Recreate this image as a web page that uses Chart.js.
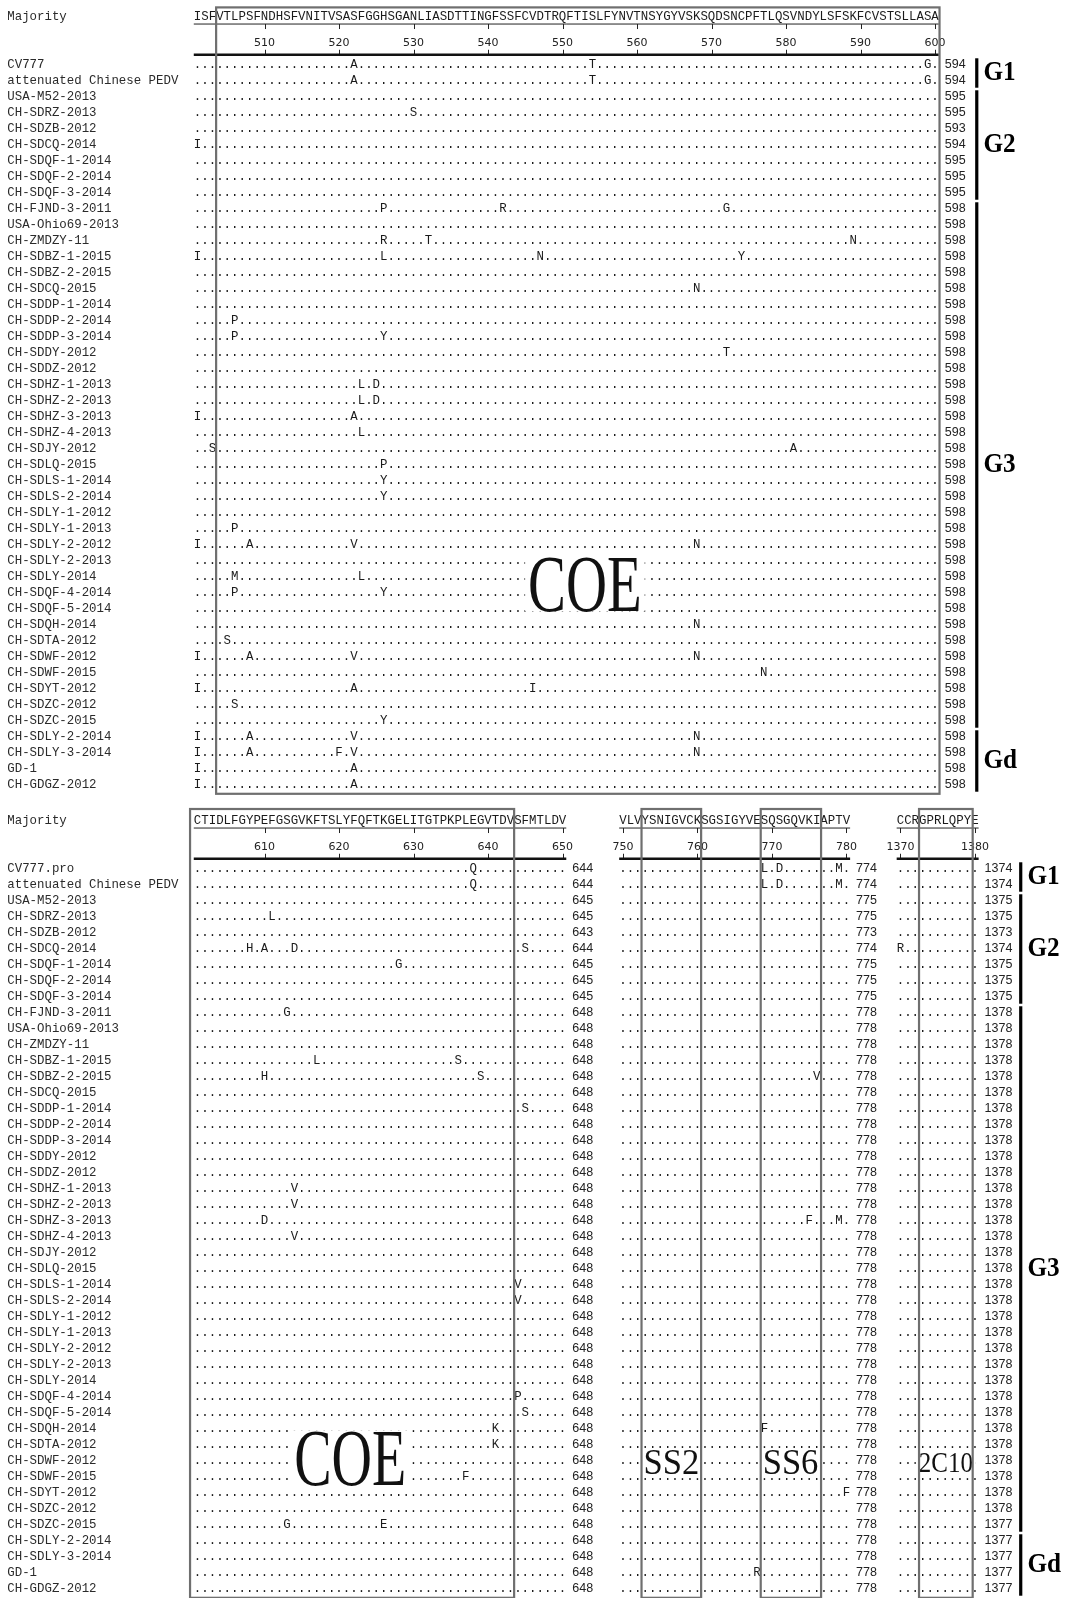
<!DOCTYPE html>
<html>
<head>
<meta charset="utf-8">
<script src="https://cdn.jsdelivr.net/npm/chart.js@4.4.1/dist/chart.umd.min.js"></script>
<style>
  html, body { margin: 0; padding: 0; background: #fff; }
  #wrap { width: 1072px; height: 1598px; position: relative; }
  canvas { display: block; }
</style>
</head>
<body>
<div id="wrap"><canvas id="aln" width="1072" height="1598"></canvas></div>
<script>
// ---- data ----
const strains = ["CV777", "attenuated Chinese PEDV", "USA-M52-2013", "CH-SDRZ-2013", "CH-SDZB-2012",
  "CH-SDCQ-2014", "CH-SDQF-1-2014", "CH-SDQF-2-2014", "CH-SDQF-3-2014", "CH-FJND-3-2011",
  "USA-Ohio69-2013", "CH-ZMDZY-11", "CH-SDBZ-1-2015", "CH-SDBZ-2-2015", "CH-SDCQ-2015",
  "CH-SDDP-1-2014", "CH-SDDP-2-2014", "CH-SDDP-3-2014", "CH-SDDY-2012", "CH-SDDZ-2012",
  "CH-SDHZ-1-2013", "CH-SDHZ-2-2013", "CH-SDHZ-3-2013", "CH-SDHZ-4-2013", "CH-SDJY-2012",
  "CH-SDLQ-2015", "CH-SDLS-1-2014", "CH-SDLS-2-2014", "CH-SDLY-1-2012", "CH-SDLY-1-2013",
  "CH-SDLY-2-2012", "CH-SDLY-2-2013", "CH-SDLY-2014", "CH-SDQF-4-2014", "CH-SDQF-5-2014",
  "CH-SDQH-2014", "CH-SDTA-2012", "CH-SDWF-2012", "CH-SDWF-2015", "CH-SDYT-2012",
  "CH-SDZC-2012", "CH-SDZC-2015", "CH-SDLY-2-2014", "CH-SDLY-3-2014", "GD-1", "CH-GDGZ-2012"];
const firstStrainBottom = "CV777.pro";

// groups: [label, first row, last row]
const groups = [["G1", 0, 1], ["G2", 2, 8], ["G3", 9, 41], ["Gd", 42, 45]];

const majority501 = "ISFVTLPSFNDHSFVNITVSASFGGHSGANLIASDTTINGFSSFCVDTRQFTISLFYNVTNSYGYVSKSQDSNCPFTLQSVNDYLSFSKFCVSTSLLASA";
const majority601 = "CTIDLFGYPEFGSGVKFTSLYFQFTKGELITGTPKPLEGVTDVSFMTLDV";
const majority750 = "VLVYSNIGVCKSGSIGYVESQSGQVKIAPTV";
const majority1370 = "CCRGPRLQPYE";

const ticks501 = [510, 520, 530, 540, 550, 560, 570, 580, 590, 600];
const ticks601 = [610, 620, 630, 640, 650];
const ticks750 = [750, 760, 770, 780];
const ticks1370 = [1370, 1380];

// residue numbers printed at the end of each row
const end600 = [594, 594, 595, 595, 593, 594, 595, 595, 595,
  598, 598, 598, 598, 598, 598, 598, 598, 598, 598, 598, 598, 598, 598, 598, 598, 598, 598, 598,
  598, 598, 598, 598, 598, 598, 598, 598, 598, 598, 598, 598, 598, 598, 598, 598, 598, 598];
const end650 = [644, 644, 645, 645, 643, 644, 645, 645, 645,
  648, 648, 648, 648, 648, 648, 648, 648, 648, 648, 648, 648, 648, 648, 648, 648, 648, 648, 648,
  648, 648, 648, 648, 648, 648, 648, 648, 648, 648, 648, 648, 648, 648, 648, 648, 648, 648];
const end780 = [774, 774, 775, 775, 773, 774, 775, 775, 775,
  778, 778, 778, 778, 778, 778, 778, 778, 778, 778, 778, 778, 778, 778, 778, 778, 778, 778, 778,
  778, 778, 778, 778, 778, 778, 778, 778, 778, 778, 778, 778, 778, 778, 778, 778, 778, 778];
const end1380 = [1374, 1374, 1375, 1375, 1373, 1374, 1375, 1375, 1375,
  1378, 1378, 1378, 1378, 1378, 1378, 1378, 1378, 1378, 1378, 1378, 1378, 1378, 1378, 1378, 1378,
  1378, 1378, 1378, 1378, 1378, 1378, 1378, 1378, 1378, 1378, 1378, 1378, 1378, 1378, 1378, 1378,
  1377, 1377, 1377, 1377, 1377];

// residues that differ from the majority: [row, position, residue]
const diffTop = [
  [0, 522, "A"], [0, 554, "T"], [0, 599, "G"],
  [1, 522, "A"], [1, 554, "T"], [1, 599, "G"],
  [3, 530, "S"], [5, 501, "I"],
  [9, 526, "P"], [9, 542, "R"], [9, 572, "G"],
  [11, 526, "R"], [11, 532, "T"], [11, 589, "N"],
  [12, 501, "I"], [12, 526, "L"], [12, 547, "N"], [12, 574, "Y"],
  [14, 568, "N"], [16, 506, "P"], [17, 506, "P"], [17, 526, "Y"], [18, 572, "T"],
  [20, 523, "L"], [20, 525, "D"], [21, 523, "L"], [21, 525, "D"],
  [22, 501, "I"], [22, 522, "A"], [23, 523, "L"],
  [24, 503, "S"], [24, 581, "A"], [25, 526, "P"], [26, 526, "Y"], [27, 526, "Y"],
  [29, 506, "P"], [30, 501, "I"], [30, 508, "A"], [30, 522, "V"], [30, 568, "N"],
  [32, 506, "M"], [32, 523, "L"], [33, 506, "P"], [33, 526, "Y"],
  [35, 568, "N"], [36, 505, "S"],
  [37, 501, "I"], [37, 508, "A"], [37, 522, "V"], [37, 568, "N"],
  [38, 577, "N"], [39, 501, "I"], [39, 522, "A"], [39, 546, "I"],
  [40, 506, "S"], [41, 526, "Y"],
  [42, 501, "I"], [42, 508, "A"], [42, 522, "V"], [42, 568, "N"],
  [43, 501, "I"], [43, 508, "A"], [43, 520, "F"], [43, 522, "V"], [43, 568, "N"],
  [44, 501, "I"], [44, 522, "A"], [45, 501, "I"], [45, 522, "A"]
];
const diffBottom = [
  [0, 638, "Q"], [0, 769, "L"], [0, 771, "D"], [0, 779, "M"],
  [1, 638, "Q"], [1, 769, "L"], [1, 771, "D"], [1, 779, "M"],
  [3, 611, "L"],
  [5, 608, "H"], [5, 610, "A"], [5, 614, "D"], [5, 645, "S"], [5, 1370, "R"],
  [6, 628, "G"], [9, 613, "G"],
  [12, 617, "L"], [12, 636, "S"],
  [13, 610, "H"], [13, 639, "S"], [13, 776, "V"],
  [15, 645, "S"], [20, 614, "V"], [21, 614, "V"],
  [22, 610, "D"], [22, 775, "F"], [22, 779, "M"], [23, 614, "V"],
  [26, 644, "V"], [27, 644, "V"],
  [33, 644, "P"], [34, 645, "S"], [35, 641, "K"], [35, 769, "F"], [36, 641, "K"],
  [38, 637, "F"], [39, 780, "F"], [41, 613, "G"], [41, 626, "E"], [44, 768, "R"]
];

// epitope regions: [label, panel]
const regions = [["COE", 0], ["COE", 1], ["SS2", 1], ["SS6", 1], ["2C10", 1]];

// ---- layout (pixel grid of the alignment text) ----
const X0 = 197.5, CW = 7.45, Y0 = 65, RH = 16;
const panelRow0 = [0, 50.25];
const segments = [
  { panel: 0, start: 501, seq: majority501, col0: 0, ticks: ticks501, ends: end600, diffs: diffTop },
  { panel: 1, start: 601, seq: majority601, col0: 0, ticks: ticks601, ends: end650, diffs: diffBottom },
  { panel: 1, start: 750, seq: majority750, col0: 57.1, ticks: ticks750, ends: end780, diffs: diffBottom },
  { panel: 1, start: 1370, seq: majority1370, col0: 94.35, ticks: ticks1370, ends: end1380, diffs: diffBottom }
];
const colOf = (seg, pos) => seg.col0 + pos - seg.start;

// box geometry in (column, row) units, per region
const boxShape = [
  { c0: 2.5, c1: 99.6, r0: -3.6, r1: 45.55, label: { col: 52, base: 34.1, size: 80, sx: 0.71 } },
  { c0: -1.0, c1: 42.5, r0: -3.75, r1: 45.55, label: { col: 20.5, base: 38.5, size: 80, sx: 0.70 } },
  { c0: 59.6, c1: 67.6, r0: -3.75, r1: 45.55, label: { col: 63.6, base: 37.8, size: 36, sx: 0.96 } },
  { c0: 75.6, c1: 83.7, r0: -3.75, r1: 45.55, label: { col: 79.6, base: 37.8, size: 36, sx: 0.96 } },
  { c0: 96.85, c1: 104.05, r0: -3.75, r1: 45.55, label: { col: 100.45, base: 37.7, size: 29, sx: 0.86 } }
];
const groupBarCol = [104.6, 110.5], groupLabelCol = [105.5, 111.4];

const MONO = '12.4px "Liberation Mono", "DejaVu Sans Mono", monospace';

// ---- datasets ----
const residuePts = [], majorityPts = [], tickPts = [], endPts = [], namePts = [], groupPts = [];
segments.forEach(seg => {
  const r0 = panelRow0[seg.panel];
  const diffMap = {};
  seg.diffs.forEach(([row, pos, aa]) => { diffMap[row + ":" + pos] = aa; });
  strains.forEach((name, row) => {
    for (let i = 0; i < seg.seq.length; i++) {
      const pos = seg.start + i;
      residuePts.push({ x: colOf(seg, pos), y: r0 + row, t: diffMap[row + ":" + pos] || "." });
    }
    endPts.push({ x: colOf(seg, seg.start + seg.seq.length - 1) + 1.3, y: r0 + row, t: String(seg.ends[row]) });
  });
  for (let i = 0; i < seg.seq.length; i++) majorityPts.push({ x: seg.col0 + i, y: r0 - 3.0, t: seg.seq[i] });
  seg.ticks.forEach(tk => tickPts.push({ x: colOf(seg, tk), y: r0 - 1.375, t: String(tk) }));
});
[0, 1].forEach(panel => {
  const r0 = panelRow0[panel];
  namePts.push({ x: -25.53, y: r0 - 3.0, t: "Majority" });
  strains.forEach((name, row) => namePts.push({ x: -25.53, y: r0 + row, t: panel === 1 && row === 0 ? firstStrainBottom : name }));
  groups.forEach(([g, a, b]) => groupPts.push({ x: groupLabelCol[panel], y: r0 + (a + b) / 2, t: g }));
});

function glyphSet(label, data, glyph) {
  return { label, data, glyph, pointRadius: 0, pointHoverRadius: 0, showLine: false };
}

const glyphPlugin = {
  id: "glyphs",
  afterDatasetsDraw(chart) {
    const ctx = chart.ctx;
    chart.data.datasets.forEach((ds, i) => {
      const g = ds.glyph;
      if (!g) return;
      const meta = chart.getDatasetMeta(i);
      ctx.save();
      ctx.font = g.font;
      ctx.fillStyle = g.color;
      ctx.textAlign = g.align;
      ctx.textBaseline = "middle";
      meta.data.forEach((el, j) => {
        const t = ds.data[j].t;
        if (g.sx) {
          ctx.save();
          ctx.translate(el.x, el.y);
          ctx.scale(g.sx, 1);
          ctx.fillText(t, 0, 0);
          ctx.restore();
        } else {
          ctx.fillText(t, el.x, el.y);
        }
      });
      ctx.restore();
    });
  }
};

const framePlugin = {
  id: "frames",
  afterDraw(chart) {
    const ctx = chart.ctx;
    const px = v => chart.scales.x.getPixelForValue(v);
    const py = v => chart.scales.y.getPixelForValue(v);

    // rulers: thin line under the majority, thick axis above the rows
    segments.forEach(seg => {
      const r0 = panelRow0[seg.panel];
      const a = px(seg.col0 - 0.5), b = px(seg.col0 + seg.seq.length - 0.5);
      const yu = py(r0 - 2.56), ya = py(r0 - 0.64);
      ctx.save();
      ctx.strokeStyle = "#222";
      ctx.lineWidth = 1;
      ctx.beginPath(); ctx.moveTo(a, yu); ctx.lineTo(b, yu); ctx.stroke();
      seg.ticks.forEach(tk => {
        const x = Math.round(px(colOf(seg, tk))) + 0.5;
        ctx.beginPath(); ctx.moveTo(x, yu); ctx.lineTo(x, yu + 5); ctx.stroke();
        ctx.beginPath(); ctx.moveTo(x, ya); ctx.lineTo(x, ya - 5); ctx.stroke();
      });
      ctx.strokeStyle = "#111";
      ctx.lineWidth = 2.6;
      ctx.beginPath(); ctx.moveTo(a, ya); ctx.lineTo(b, ya); ctx.stroke();
      ctx.restore();
    });

    // epitope labels over a white patch, then the boxes
    regions.forEach(([label, panel], k) => {
      const sh = boxShape[k], r0 = panelRow0[panel], L = sh.label;
      ctx.save();
      ctx.font = L.size + 'px "Liberation Serif", "Times New Roman", serif';
      const w = ctx.measureText(label).width * L.sx;
      const cap = L.size * 0.66;
      const cx = px(L.col), base = py(r0 + L.base);
      ctx.fillStyle = "#fff";
      ctx.fillRect(cx - w / 2 - 3, base - cap - 2, w + 6, cap + 3);
      ctx.fillStyle = "#111";
      ctx.textAlign = "center";
      ctx.textBaseline = "alphabetic";
      ctx.translate(cx, base);
      ctx.scale(L.sx, 1);
      ctx.fillText(label, 0, 0);
      ctx.restore();
    });
    regions.forEach(([label, panel], k) => {
      const sh = boxShape[k], r0 = panelRow0[panel];
      ctx.save();
      ctx.strokeStyle = "#6f6f6f";
      ctx.lineWidth = 2.2;
      ctx.strokeRect(px(sh.c0), py(r0 + sh.r0), px(sh.c1) - px(sh.c0), py(r0 + sh.r1) - py(r0 + sh.r0));
      ctx.restore();
    });

    // group brackets
    [0, 1].forEach(panel => {
      const r0 = panelRow0[panel];
      groups.forEach(([g, a, b]) => {
        ctx.save();
        ctx.fillStyle = "#000";
        const x = px(groupBarCol[panel]);
        ctx.fillRect(x - 1.6, py(r0 + a - 0.42), 3.2, py(r0 + b + 0.42) - py(r0 + a - 0.42));
        ctx.restore();
      });
    });
  }
};

new Chart(document.getElementById("aln").getContext("2d"), {
  type: "scatter",
  data: {
    datasets: [
      glyphSet("names", namePts, { font: MONO, color: "#2a2a2a", align: "left" }),
      glyphSet("residues", residuePts, { font: MONO, color: "#1a1a1a", align: "center" }),
      glyphSet("majority", majorityPts, { font: MONO, color: "#1a1a1a", align: "center" }),
      glyphSet("ticks", tickPts, { font: '11px "DejaVu Sans", sans-serif', color: "#222", align: "center" }),
      glyphSet("ends", endPts, { font: '12.5px "Liberation Sans", sans-serif', color: "#222", align: "left" }),
      glyphSet("groups", groupPts, { font: 'bold 28px "Liberation Serif", serif', color: "#000", align: "left", sx: 0.9 })
    ]
  },
  options: {
    responsive: false,
    animation: false,
    events: [],
    layout: { padding: 0 },
    plugins: { legend: { display: false }, tooltip: { enabled: false } },
    scales: {
      x: { type: "linear", display: false, min: -X0 / CW, max: (1072 - X0) / CW },
      y: { type: "linear", display: false, reverse: true, min: -Y0 / RH, max: (1598 - Y0) / RH }
    }
  },
  plugins: [glyphPlugin, framePlugin]
});
</script>
</body>
</html>
